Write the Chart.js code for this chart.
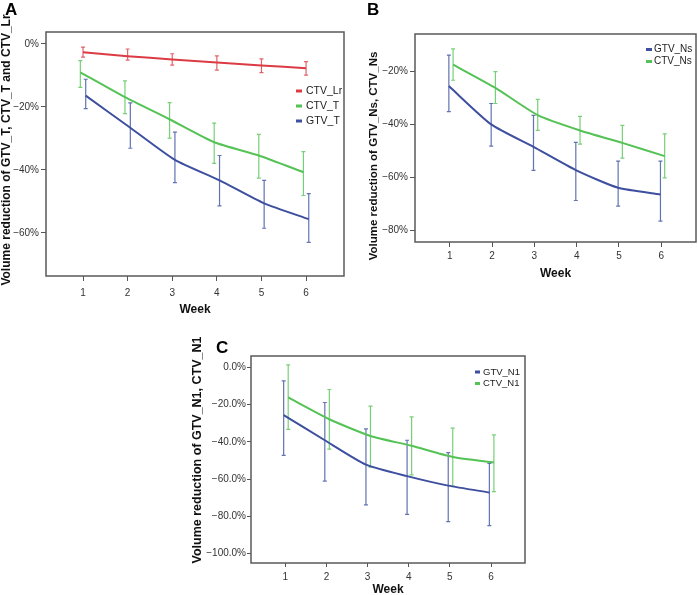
<!DOCTYPE html>
<html>
<head>
<meta charset="utf-8">
<script src="https://cdn.jsdelivr.net/npm/chart.js@4.4.1/dist/chart.umd.min.js"></script>
<style>
  html, body { margin: 0; padding: 0; background: #fff; overflow: hidden; }
  body { width: 698px; height: 595px; position: relative; }
  canvas { position: absolute; }
</style>
</head>
<body>
<canvas id="chartA" width="350" height="320" style="left:0;top:0"></canvas>
<canvas id="chartB" width="348" height="300" style="left:350px;top:0"></canvas>
<canvas id="chartC" width="360" height="315" style="left:180px;top:290px"></canvas>
<script>
// weeks on the x axis
const weeks = [1, 2, 3, 4, 5, 6];

// tick labels
const yTicksA = [0, -20, -40, -60];
const yTicksB = [-20, -40, -60, -80];
const yTicksC = [0, -20, -40, -60, -80, -100];

// panel A
const ctvLrMean = [-2.6, -3.9, -4.9, -5.9, -6.8, -7.7];
const ctvLrHigh = [-1.0, -1.6, -3.1, -3.8, -4.7, -5.6];
const ctvLrLow  = [-4.2, -5.1, -6.7, -8.3, -9.1, -9.9];
const ctvTMean  = [-9.0, -16.9, -23.9, -31.2, -35.4, -40.7];
const ctvTHigh  = [-5.3, -11.7, -18.6, -25.1, -28.7, -34.2];
const ctvTLow   = [-13.8, -22.1, -29.9, -37.9, -42.6, -48.1];
const gtvTMean  = [-16.4, -26.6, -36.8, -43.3, -50.6, -55.6];
const gtvTHigh  = [-11.2, -18.7, -28.0, -35.4, -43.3, -47.5];
const gtvTLow   = [-20.5, -33.1, -44.0, -51.4, -58.5, -63.0];

// panel B
const gtvNsMean = [-25.5, -40.0, -48.5, -57.3, -64.0, -66.5];
const gtvNsHigh = [-13.8, -32.1, -36.6, -46.8, -53.9, -53.9];
const gtvNsLow  = [-35.2, -48.2, -57.4, -68.8, -70.9, -76.6];
const ctvNsMean = [-17.4, -26.2, -36.5, -42.3, -47.0, -52.0];
const ctvNsHigh = [-11.4, -20.0, -30.5, -37.0, -40.4, -43.6];
const ctvNsLow  = [-23.3, -32.1, -42.3, -47.5, -52.8, -60.2];

// panel C
const gtvN1Mean = [-25.6, -39.1, -52.2, -58.4, -63.5, -67.2];
const gtvN1High = [-7.2, -18.8, -33.0, -39.1, -45.7, -51.5];
const gtvN1Low  = [-47.2, -61.1, -73.9, -79.0, -82.8, -85.0];
const ctvN1Mean = [-16.1, -27.8, -36.8, -42.1, -48.1, -51.1];
const ctvN1High = [1.4, -11.8, -20.8, -26.5, -32.6, -36.2];
const ctvN1Low  = [-33.3, -43.9, -53.6, -57.7, -63.7, -66.7];

const RED = '#dc3a44', RED_BAR = 'rgba(222,70,80,0.85)';
const GREEN = '#55c255', GREEN_BAR = 'rgba(95,200,95,0.85)';
const BLUE = '#3d4f9e', BLUE_BAR = 'rgba(70,90,165,0.85)';
const FONT = '"Liberation Sans", Arial, sans-serif';

Chart.defaults.font.family = FONT;

function series(label, color, barColor, means, low, high, dodge) {
  return {
    label: label,
    data: means.map((v, i) => ({ x: weeks[i] + dodge, y: v })),
    errLow: low,
    errHigh: high,
    barColor: barColor,
    borderColor: color,
    backgroundColor: color,
    borderWidth: 2,
    pointRadius: 0,
    tension: 0.2,
    fill: false
  };
}

// error bars, frame, legend, y title and panel letter
const panelDecor = {
  id: 'panelDecor',
  beforeDatasetsDraw(chart) {
    const { ctx, scales: { x, y } } = chart;
    chart.data.datasets.forEach(ds => {
      ctx.save();
      ctx.strokeStyle = ds.barColor;
      ctx.lineWidth = 1.2;
      ds.data.forEach((p, j) => {
        const px = x.getPixelForValue(p.x);
        const yl = y.getPixelForValue(ds.errLow[j]);
        const yh = y.getPixelForValue(ds.errHigh[j]);
        ctx.beginPath();
        ctx.moveTo(px, yl); ctx.lineTo(px, yh);
        ctx.moveTo(px - 2, yl); ctx.lineTo(px + 2, yl);
        ctx.moveTo(px - 2, yh); ctx.lineTo(px + 2, yh);
        ctx.stroke();
      });
      ctx.restore();
    });
  },
  afterDraw(chart, args, o) {
    const { ctx, chartArea: a } = chart;
    ctx.save();
    ctx.strokeStyle = '#5a5a5a';
    ctx.lineWidth = 1.5;
    ctx.strokeRect(a.left, a.top, a.right - a.left, a.bottom - a.top);

    // legend
    ctx.font = o.legendSize + 'px ' + FONT;
    ctx.textBaseline = 'middle';
    ctx.textAlign = 'left';
    chart.data.datasets.forEach((ds, i) => {
      const ly = o.legendY + i * o.legendGap;
      ctx.fillStyle = ds.borderColor;
      ctx.fillRect(o.legendX, ly - 1.5, o.markW, 3);
      ctx.fillStyle = '#222';
      ctx.fillText(ds.label, o.textX, ly);
    });

    // y title
    ctx.save();
    ctx.translate(o.titleX, o.titleY);
    ctx.rotate(-Math.PI / 2);
    ctx.font = 'bold ' + o.titleSize + 'px ' + FONT;
    ctx.textAlign = 'center';
    ctx.fillStyle = '#111';
    ctx.fillText(o.title, 0, 0);
    ctx.restore();

    // panel letter
    ctx.font = 'bold 17px ' + FONT;
    ctx.textBaseline = 'alphabetic';
    ctx.fillStyle = '#000';
    ctx.fillText(o.letter, o.letterX, o.letterY);
    ctx.restore();
  }
};

function makeChart(id, p) {
  new Chart(document.getElementById(id), {
    type: 'line',
    data: { datasets: p.datasets },
    plugins: [panelDecor],
    options: {
      responsive: false,
      animation: false,
      layout: { padding: { top: p.padTop, right: p.padRight, left: 0, bottom: 0 } },
      plugins: {
        legend: { display: false },
        tooltip: { enabled: false },
        panelDecor: p.decor
      },
      scales: {
        x: {
          type: 'linear',
          min: p.xMin,
          max: p.xMax,
          afterBuildTicks: s => { s.ticks = weeks.map(v => ({ value: v })); },
          afterFit: s => { s.height = p.xHeight; },
          grid: { drawOnChartArea: false, drawTicks: true, tickLength: p.tickLen, color: '#555' },
          border: { display: false },
          ticks: { font: { size: 10 }, color: '#333', padding: p.xPad, maxRotation: 0, autoSkip: false,
                   callback: v => String(v) },
          title: { display: true, text: 'Week', color: '#111',
                   font: { size: 12, weight: 'bold' }, padding: { top: 0, bottom: p.weekPad } }
        },
        y: {
          min: p.yMin,
          max: p.yMax,
          afterBuildTicks: s => { s.ticks = p.yTicks.map(v => ({ value: v })); },
          afterFit: s => { s.width = p.yWidth; },
          grid: { drawOnChartArea: false, drawTicks: true, tickLength: p.tickLen, color: '#555' },
          border: { display: false },
          ticks: { font: { size: 10 }, color: '#333', padding: p.yPad, autoSkip: false,
                   callback: p.fmt }
        }
      }
    }
  });
}

const pct = v => (v < 0 ? '\u2212' : '') + Math.abs(v) + '%';
const pct1 = v => (v < 0 ? '\u2212' : '') + Math.abs(v).toFixed(1) + '%';

makeChart('chartA', {
  datasets: [
    series('CTV_Lr', RED, RED_BAR, ctvLrMean, ctvLrLow, ctvLrHigh, 0),
    series('CTV_T', GREEN, GREEN_BAR, ctvTMean, ctvTLow, ctvTHigh, -0.06),
    series('GTV_T', BLUE, BLUE_BAR, gtvTMean, gtvTLow, gtvTHigh, 0.06)
  ],
  xMin: 0.17, xMax: 6.85, yMin: -73.65, yMax: 3.8, yTicks: yTicksA, fmt: pct,
  padTop: 32, padRight: 6, yWidth: 46, xHeight: 44,
  tickLen: 5, xPad: 6, yPad: 2, weekPad: 3,
  decor: { legendX: 296, textX: 306, legendY: 91, legendGap: 15, markW: 6, legendSize: 10.5,
           title: 'Volume reduction of GTV_T, CTV_T and CTV_Lr', titleX: 7, titleY: 150, titleSize: 12,
           letter: 'A', letterX: 5, letterY: 15 }
});

makeChart('chartB', {
  datasets: [
    series('GTV_Ns', BLUE, BLUE_BAR, gtvNsMean, gtvNsLow, gtvNsHigh, -0.02),
    series('CTV_Ns', GREEN, GREEN_BAR, ctvNsMean, ctvNsLow, ctvNsHigh, 0.08)
  ],
  xMin: 0.18, xMax: 6.82, yMin: -84.5, yMax: -5.8, yTicks: yTicksB, fmt: pct,
  padTop: 34, padRight: 2, yWidth: 65, xHeight: 58,
  tickLen: 5, xPad: 3, yPad: 2, weekPad: 19,
  decor: { legendX: 296, textX: 304, legendY: 49.5, legendGap: 12, markW: 6, legendSize: 10,
           title: 'Volume reduction of GTV_Ns, CTV_Ns', titleX: 24, titleY: 156, titleSize: 11.5,
           letter: 'B', letterX: 17, letterY: 15 }
});

makeChart('chartC', {
  datasets: [
    series('GTV_N1', BLUE, BLUE_BAR, gtvN1Mean, gtvN1Low, gtvN1High, -0.04),
    series('CTV_N1', GREEN, GREEN_BAR, ctvN1Mean, ctvN1Low, ctvN1High, 0.07)
  ],
  xMin: 0.166, xMax: 6.826, yMin: -105.1, yMax: 6.2, yTicks: yTicksC, fmt: pct1,
  padTop: 66, padRight: 15, yWidth: 71, xHeight: 42,
  tickLen: 4, xPad: 4, yPad: 1, weekPad: 8,
  decor: { legendX: 295, textX: 303, legendY: 82, legendGap: 11.5, markW: 5, legendSize: 9.5,
           title: 'Volume reduction of GTV_N1, CTV_N1', titleX: 18, titleY: 160, titleSize: 12.5,
           letter: 'C', letterX: 36, letterY: 63 }
});
</script>
</body>
</html>
